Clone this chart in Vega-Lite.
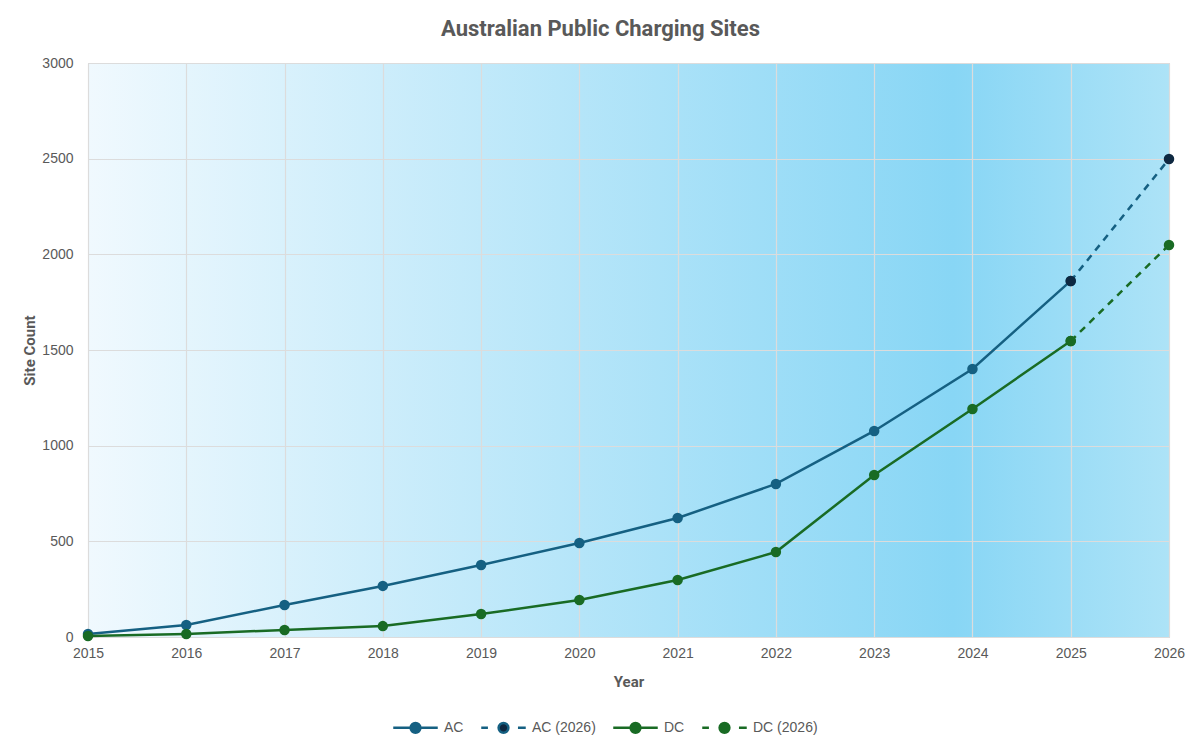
{
  "$schema": "https://vega.github.io/schema/vega-lite/v6.json",
  "description": "Australian Public Charging Sites",
  "autosize": {"type": "none"},
  "padding": {"left": 88, "top": 63, "right": 31, "bottom": 112},
  "width": 1081,
  "height": 574,
  "background": "#ffffff",
  "title": {
    "text": "Australian Public Charging Sites",
    "font": "'Liberation Sans Narrow', Roboto, sans-serif",
    "fontSize": 22,
    "fontWeight": "bold",
    "color": "#595959",
    "anchor": "middle",
    "dx": -28,
    "offset": 15
  },
  "data": {
    "values": [
      {"year": 2015, "count": 16, "series": "AC"},
      {"year": 2016, "count": 63, "series": "AC"},
      {"year": 2017, "count": 167, "series": "AC"},
      {"year": 2018, "count": 267, "series": "AC"},
      {"year": 2019, "count": 376, "series": "AC"},
      {"year": 2020, "count": 491, "series": "AC"},
      {"year": 2021, "count": 622, "series": "AC"},
      {"year": 2022, "count": 800, "series": "AC"},
      {"year": 2023, "count": 1077, "series": "AC"},
      {"year": 2024, "count": 1401, "series": "AC"},
      {"year": 2025, "count": 1861, "series": "AC"},
      {"year": 2025, "count": 1861, "series": "AC (2026)"},
      {"year": 2026, "count": 2498, "series": "AC (2026)"},
      {"year": 2015, "count": 5, "series": "DC"},
      {"year": 2016, "count": 16, "series": "DC"},
      {"year": 2017, "count": 37, "series": "DC"},
      {"year": 2018, "count": 57, "series": "DC"},
      {"year": 2019, "count": 120, "series": "DC"},
      {"year": 2020, "count": 193, "series": "DC"},
      {"year": 2021, "count": 298, "series": "DC"},
      {"year": 2022, "count": 444, "series": "DC"},
      {"year": 2023, "count": 847, "series": "DC"},
      {"year": 2024, "count": 1192, "series": "DC"},
      {"year": 2025, "count": 1547, "series": "DC"},
      {"year": 2025, "count": 1547, "series": "DC (2026)"},
      {"year": 2026, "count": 2049, "series": "DC (2026)"}
    ]
  },
  "encoding": {
    "x": {
      "field": "year",
      "type": "quantitative",
      "title": "Year",
      "scale": {"domain": [2015, 2026], "nice": false, "zero": false},
      "axis": {
        "values": [2015, 2016, 2017, 2018, 2019, 2020, 2021, 2022, 2023, 2024, 2025, 2026],
        "format": "d",
        "labelFlush": false,
        "labelPadding": 9,
        "titlePadding": 14
      }
    },
    "y": {
      "field": "count",
      "type": "quantitative",
      "title": "Site Count",
      "scale": {"domain": [0, 3000], "nice": false},
      "axis": {
        "values": [0, 500, 1000, 1500, 2000, 2500, 3000],
        "format": "d",
        "labelFlush": false,
        "labelPadding": 15,
        "titlePadding": 4
      }
    },
    "stroke": {
      "field": "series",
      "type": "nominal",
      "scale": {
        "domain": ["AC", "AC (2026)", "DC", "DC (2026)"],
        "range": ["#156082", "#156082", "#196B24", "#196B24"]
      },
      "legend": {
        "orient": "none",
        "direction": "horizontal",
        "legendX": 304,
        "legendY": 641,
        "title": null,
        "symbolSize": 1980,
        "symbolStrokeWidth": 2.5,
        "labelOffset": 5,
        "columnPadding": 12,
        "encode": {
          "symbols": {
            "update": {
              "shape": [
                {"test": "datum.label === 'AC (2026)' || datum.label === 'DC (2026)'", "value": "M-1,0H-0.7M0.65,0H1M-0.22,0A0.22,0.22 0 1,1 0.22,0A0.22,0.22 0 1,1 -0.22,0Z"},
                {"value": "M-1,0H1M-0.22,0A0.22,0.22 0 1,1 0.22,0A0.22,0.22 0 1,1 -0.22,0Z"}
              ],
              "fill": [
                {"test": "datum.label === 'AC (2026)'", "value": "#0E2841"},
                {"test": "datum.label === 'AC'", "value": "#156082"},
                {"value": "#196B24"}
              ],
              "fillOpacity": {"value": 1}
            }
          }
        }
      }
    }
  },
  "layer": [
    {
      "transform": [{"filter": "datum.series === 'AC' || datum.series === 'DC'"}],
      "mark": {"type": "line", "strokeWidth": 2.5}
    },
    {
      "transform": [{"filter": "datum.series === 'AC (2026)' || datum.series === 'DC (2026)'"}],
      "mark": {"type": "line", "strokeWidth": 2.5, "strokeDash": [7, 6]}
    },
    {
      "mark": {"type": "point", "filled": true, "size": 110, "opacity": 1},
      "encoding": {
        "stroke": null,
        "fill": {
          "field": "series",
          "type": "nominal",
          "scale": {
            "domain": ["AC", "AC (2026)", "DC", "DC (2026)"],
            "range": ["#156082", "#0E2841", "#196B24", "#196B24"]
          },
          "legend": null
        }
      }
    }
  ],
  "config": {
    "font": "Liberation Sans, Arial, sans-serif",
    "view": {
      "stroke": "#d0d0d0",
      "fill": {
        "gradient": "linear",
        "x1": 0, "y1": 0, "x2": 1, "y2": 0,
        "stops": [
          {"offset": 0, "color": "#f0f9fe"},
          {"offset": 0.8, "color": "#88d6f5"},
          {"offset": 1, "color": "#ade3f7"}
        ]
      }
    },
    "axis": {
      "domain": false,
      "ticks": false,
      "grid": true,
      "gridColor": "#dcdcdc",
      "gridWidth": 1.2,
      "labelFont": "Liberation Sans, Arial, sans-serif",
      "labelFontSize": 14,
      "labelColor": "#595959",
      "titleFont": "'Liberation Sans Narrow', Roboto, sans-serif",
      "titleFontSize": 15,
      "titleFontWeight": "bold",
      "titleColor": "#595959"
    },
    "legend": {
      "labelFont": "Liberation Sans, Arial, sans-serif",
      "labelFontSize": 14,
      "labelColor": "#595959"
    }
  }
}
